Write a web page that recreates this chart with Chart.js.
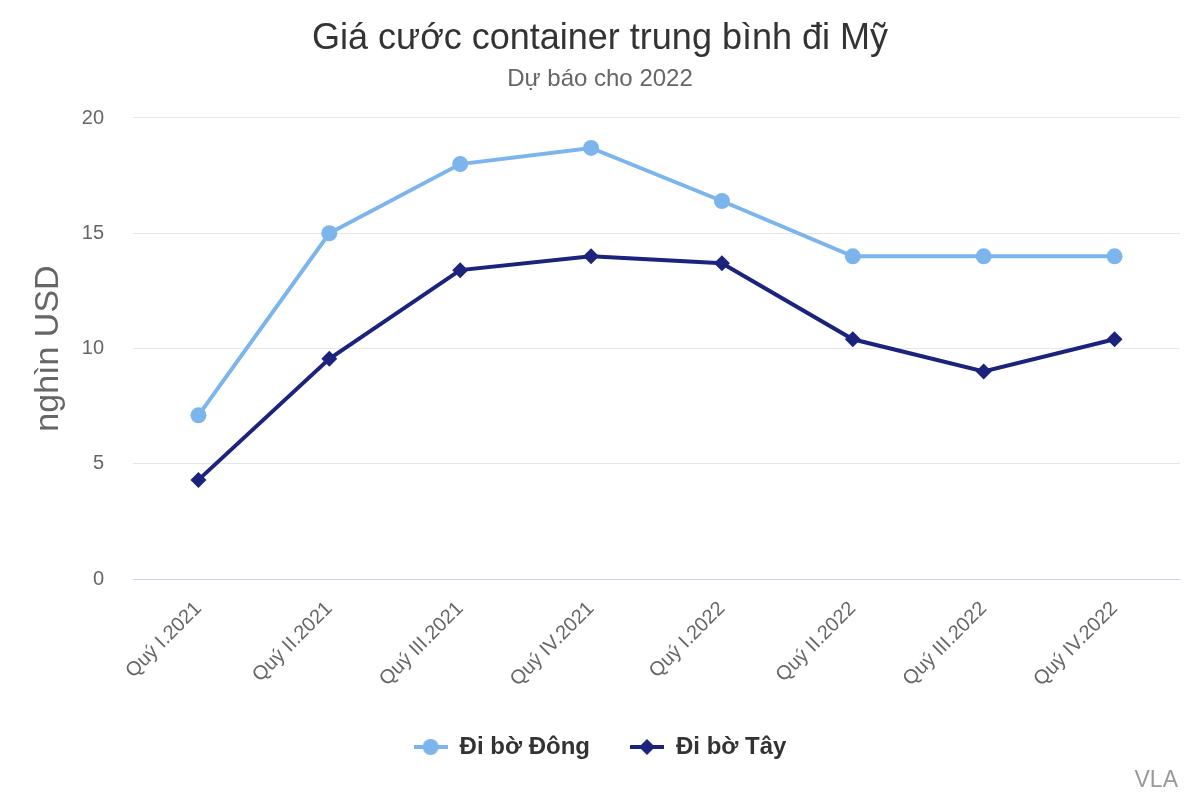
<!DOCTYPE html>
<html lang="vi">
<head>
    <meta charset="UTF-8">
    <title>Giá cước container trung bình đi Mỹ</title>
    <script src="https://cdn.jsdelivr.net/npm/chart.js"></script>
    <style>
        * { margin: 0; padding: 0; box-sizing: border-box; }
        body { background: #ffffff; width: 1200px; height: 800px; overflow: hidden; }
        .chart-box { position: relative; width: 1200px; height: 800px; }
    </style>
</head>
<body>
    <div class="chart-box">
        <canvas id="freightChart"></canvas>
    </div>

    <script>
        const categories = ['Quý I.2021', 'Quý II.2021', 'Quý III.2021', 'Quý IV.2021',
                            'Quý I.2022', 'Quý II.2022', 'Quý III.2022', 'Quý IV.2022'];
        const eastCoast = [7.1, 15, 18, 18.7, 16.4, 14, 14, 14];
        const westCoast = [4.3, 9.55, 13.4, 14, 13.7, 10.4, 9, 10.4];
        const yTicks = [0, 5, 10, 15, 20];

        const FONT = "'Liberation Sans', Arial, sans-serif";
        const EAST_COLOR = '#7cb5ec';
        const WEST_COLOR = '#1b237d';

        // legend symbol: short line with the marker in the middle
        const legendSymbol = (color, shape) => {
            const c = document.createElement('canvas');
            c.width = 34;
            c.height = 18;
            const ctx = c.getContext('2d');
            ctx.strokeStyle = color;
            ctx.lineWidth = 4;
            ctx.beginPath();
            ctx.moveTo(0, 9);
            ctx.lineTo(34, 9);
            ctx.stroke();
            ctx.fillStyle = color;
            ctx.beginPath();
            if (shape === 'circle') {
                ctx.arc(17, 9, 8, 0, Math.PI * 2);
            } else {
                ctx.moveTo(17, 1);
                ctx.lineTo(25, 9);
                ctx.lineTo(17, 17);
                ctx.lineTo(9, 9);
                ctx.closePath();
            }
            ctx.fill();
            return c;
        };

        const creditPlugin = {
            id: 'credit',
            afterDraw(chart) {
                const ctx = chart.ctx;
                ctx.save();
                ctx.font = '23px ' + FONT;
                ctx.fillStyle = '#999999';
                ctx.textAlign = 'right';
                ctx.textBaseline = 'middle';
                ctx.fillText('VLA', 1178, 781);
                ctx.restore();
            }
        };

        const initChart = () => {
            const ctx = document.getElementById('freightChart').getContext('2d');
            new Chart(ctx, {
                type: 'line',
                data: {
                    labels: categories,
                    datasets: [{
                        label: 'Đi bờ Đông',
                        data: eastCoast,
                        borderColor: EAST_COLOR,
                        backgroundColor: EAST_COLOR,
                        borderWidth: 4,
                        pointStyle: 'circle',
                        pointRadius: 8,
                        pointBorderWidth: 0,
                        tension: 0
                    }, {
                        label: 'Đi bờ Tây',
                        data: westCoast,
                        borderColor: WEST_COLOR,
                        backgroundColor: WEST_COLOR,
                        borderWidth: 4,
                        pointStyle: 'rectRot',
                        pointRadius: 8,
                        pointBorderWidth: 0,
                        tension: 0
                    }]
                },
                options: {
                    responsive: true,
                    maintainAspectRatio: false,
                    animation: false,
                    layout: { padding: { left: 20, right: 20, top: 0, bottom: 31 } },
                    plugins: {
                        title: {
                            display: true,
                            text: 'Giá cước container trung bình đi Mỹ',
                            color: '#333333',
                            font: { family: FONT, size: 36, weight: 'normal' },
                            padding: { top: 17, bottom: 5 }
                        },
                        subtitle: {
                            display: true,
                            text: 'Dự báo cho 2022',
                            color: '#666666',
                            font: { family: FONT, size: 24, weight: 'normal' },
                            padding: { top: 0, bottom: 24 }
                        },
                        legend: {
                            position: 'bottom',
                            labels: {
                                color: '#333333',
                                font: { family: FONT, size: 24, weight: 'bold' },
                                usePointStyle: true,
                                pointStyleWidth: 34,
                                padding: 40,
                                generateLabels: (chart) => chart.data.datasets.map((ds, i) => ({
                                    text: ds.label,
                                    fillStyle: ds.borderColor,
                                    strokeStyle: ds.borderColor,
                                    fontColor: '#333333',
                                    lineWidth: 0,
                                    pointStyle: legendSymbol(ds.borderColor, i === 0 ? 'circle' : 'diamond'),
                                    hidden: !chart.isDatasetVisible(i),
                                    datasetIndex: i
                                }))
                            }
                        },
                        tooltip: { enabled: false }
                    },
                    scales: {
                        x: {
                            offset: true,
                            grid: { display: false, drawTicks: false },
                            border: { display: true, color: '#ccd6eb', width: 1 },
                            ticks: {
                                color: '#666666',
                                font: { family: FONT, size: 20 },
                                maxRotation: 45,
                                minRotation: 45,
                                padding: 18,
                                autoSkip: false
                            },
                            afterFit: (scale) => { scale.height = 116; }
                        },
                        y: {
                            min: 0,
                            max: 20,
                            afterBuildTicks: (scale) => {
                                scale.ticks = yTicks.map(v => ({ value: v }));
                            },
                            grid: { color: '#e6e6e6', lineWidth: 1, drawTicks: false },
                            border: { display: false },
                            ticks: {
                                color: '#666666',
                                font: { family: FONT, size: 20 },
                                padding: 29
                            },
                            title: {
                                display: true,
                                text: 'nghìn USD',
                                color: '#666666',
                                font: { family: FONT, size: 34 },
                                padding: { top: 8, bottom: 0 }
                            },
                            afterFit: (scale) => { scale.width = 113; }
                        }
                    }
                },
                plugins: [creditPlugin]
            });
        };

        document.addEventListener('DOMContentLoaded', initChart);
    </script>
</body>
</html>
